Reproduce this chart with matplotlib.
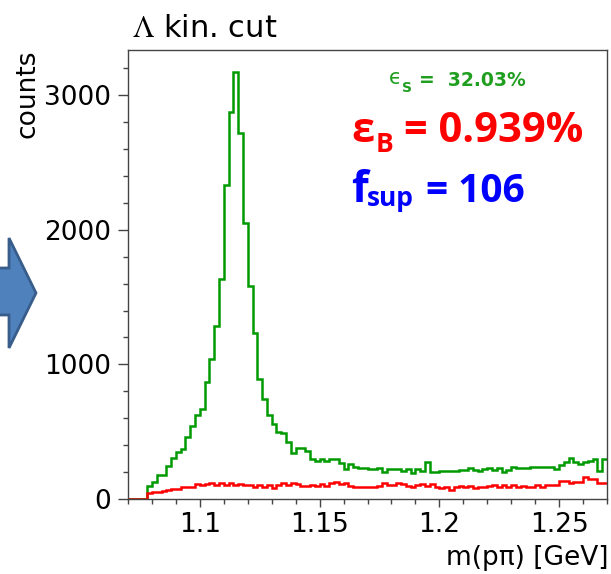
import matplotlib
matplotlib.use('Agg')
import matplotlib.pyplot as plt
import numpy as np
from matplotlib.ticker import MultipleLocator, FuncFormatter
from matplotlib.patches import Polygon

# m(p pi) histogram, 100 bins from 1.07 to 1.27 GeV
bin_lo = 1.07
bin_hi = 1.27
n_bins = 100

# signal (green), counts per bin
signal = [0, 0, 0, 0,
          99, 128, 178, 178, 245, 307, 352, 371, 458, 545,
          624, 669, 872, 1040, 1285, 1632, 2333, 2873, 3175, 2717,
          2048, 1582, 1236, 892, 740, 624, 557, 495,
          492, 420, 340, 381, 381, 355, 298, 285, 297, 282,
          300, 297, 265, 220, 258, 240, 233, 233, 220, 220,
          233, 203, 222, 222, 222, 210, 220, 191, 222, 210,
          277, 203, 203, 210, 210, 210, 210, 215, 215, 228,
          215, 210, 222, 228, 215, 228, 198, 215, 240, 228,
          228, 228, 240, 240, 240, 240, 240, 222, 253, 272,
          302, 272, 258, 272, 282, 297, 210, 297]

# background (red), counts per bin
background = [0, 0, 0, 0,
              42, 50, 55, 60, 67, 72, 78, 90, 92, 91,
              109, 104, 109, 119, 101, 119, 101, 119, 101, 109,
              101, 101, 87, 101, 91, 101, 81, 101,
              116, 104, 116, 109, 97, 97, 104, 97, 109, 97,
              116, 129, 109, 116, 97, 92, 92, 92, 92, 92,
              100, 116, 104, 104, 121, 109, 97, 87, 104, 109,
              99, 109, 92, 79, 87, 67, 87, 97, 92, 99,
              84, 92, 87, 97, 104, 92, 104, 92, 104, 87,
              99, 92, 87, 104, 92, 104, 104, 104, 136, 136,
              116, 129, 129, 161, 146, 148, 116, 120]

eff_sig = '32.03%'
eff_bkg = '0.939%'
f_sup = '106'

W, H = 611, 574
plt.rcParams['mathtext.fontset'] = 'stix'
plt.rcParams['font.family'] = 'DejaVu Sans'

fig = plt.figure(figsize=(W / 100, H / 100), dpi=100)
ax = fig.add_axes([128 / W, 1 - 499 / H, (607 - 128) / W, (499 - 50) / H])

def fx(px):
    return px / W

def fy(py):
    return 1 - py / H

edges = np.linspace(bin_lo, bin_hi, n_bins + 1)
ax.stairs(signal, edges, color='#009a00', linewidth=1.8, baseline=None)
ax.stairs(background, edges, color='#ff0000', linewidth=1.8, baseline=None)

ax.set_xlim(bin_lo, bin_hi)
ax.set_ylim(0, 3336)

ax.xaxis.set_major_locator(MultipleLocator(0.05))
ax.xaxis.set_minor_locator(MultipleLocator(0.01))
ax.xaxis.set_major_formatter(FuncFormatter(lambda v, p: '%g' % round(v, 3)))
ax.yaxis.set_major_locator(MultipleLocator(1000))
ax.yaxis.set_minor_locator(MultipleLocator(200))

for s in ax.spines.values():
    s.set_color('#444444')
    s.set_linewidth(1.0)
ax.tick_params(which='both', direction='out', color='#444444', width=1,
               labelsize=19)
ax.tick_params(axis='y', which='major', length=7, pad=5)
ax.tick_params(axis='y', which='minor', length=3.5)
ax.tick_params(axis='x', which='major', length=5.5, pad=4)
ax.tick_params(axis='x', which='minor', length=3.5)

# titles
fig.text(fx(132), fy(37), r'$\Lambda$ kin. cut', fontsize=22, va='baseline')
fig.text(fx(608), fy(565), 'm(p\u03c0) [GeV]', fontsize=19,
         ha='right', va='baseline')
fig.text(fx(28), fy(50), 'counts', fontsize=19, rotation=90,
         ha='center', va='top')

# annotations
green = '#1f9e1f'
fig.text(fx(389), fy(84), '\u03f5', fontsize=15, color=green, va='baseline')
fig.text(fx(402), fy(92), 'S', fontsize=10, fontweight='bold', color=green,
         va='baseline')
fig.text(fx(419), fy(86), '=  ' + eff_sig, fontsize=13.5, fontweight='bold',
         color=green, va='baseline')

big = 'Open Sans'
fig.text(fx(351), fy(142), '\u03b5', fontsize=30, fontweight='bold',
         family=big, color='#ff0000', va='baseline')
fig.text(fx(376), fy(152), 'B', fontsize=19, fontweight='bold',
         family=big, color='#ff0000', va='baseline')
fig.text(fx(404), fy(142), '= ' + eff_bkg, fontsize=30, fontweight='bold',
         family=big, color='#ff0000', va='baseline')

fig.text(fx(351), fy(202), 'f', fontsize=31, fontweight='bold',
         family=big, color='#0000ff', va='baseline')
fig.text(fx(367), fy(206), 'sup', fontsize=19, fontweight='bold',
         family=big, color='#0000ff', va='baseline')
fig.text(fx(426), fy(202), '= ' + f_sup, fontsize=28, fontweight='bold',
         family=big, color='#0000ff', va='baseline')

# slide arrow on the left edge
arrow_px = [(-6, 268), (9, 268), (9, 238), (36, 293), (9, 348), (9, 315), (-6, 315)]
arrow = Polygon([(fx(a), fy(b)) for a, b in arrow_px], closed=True,
                transform=fig.transFigure, facecolor='#4f81bd',
                edgecolor='#385d8a', linewidth=2, clip_on=False)
fig.patches.append(arrow)

fig.savefig('out.png', dpi=100)
